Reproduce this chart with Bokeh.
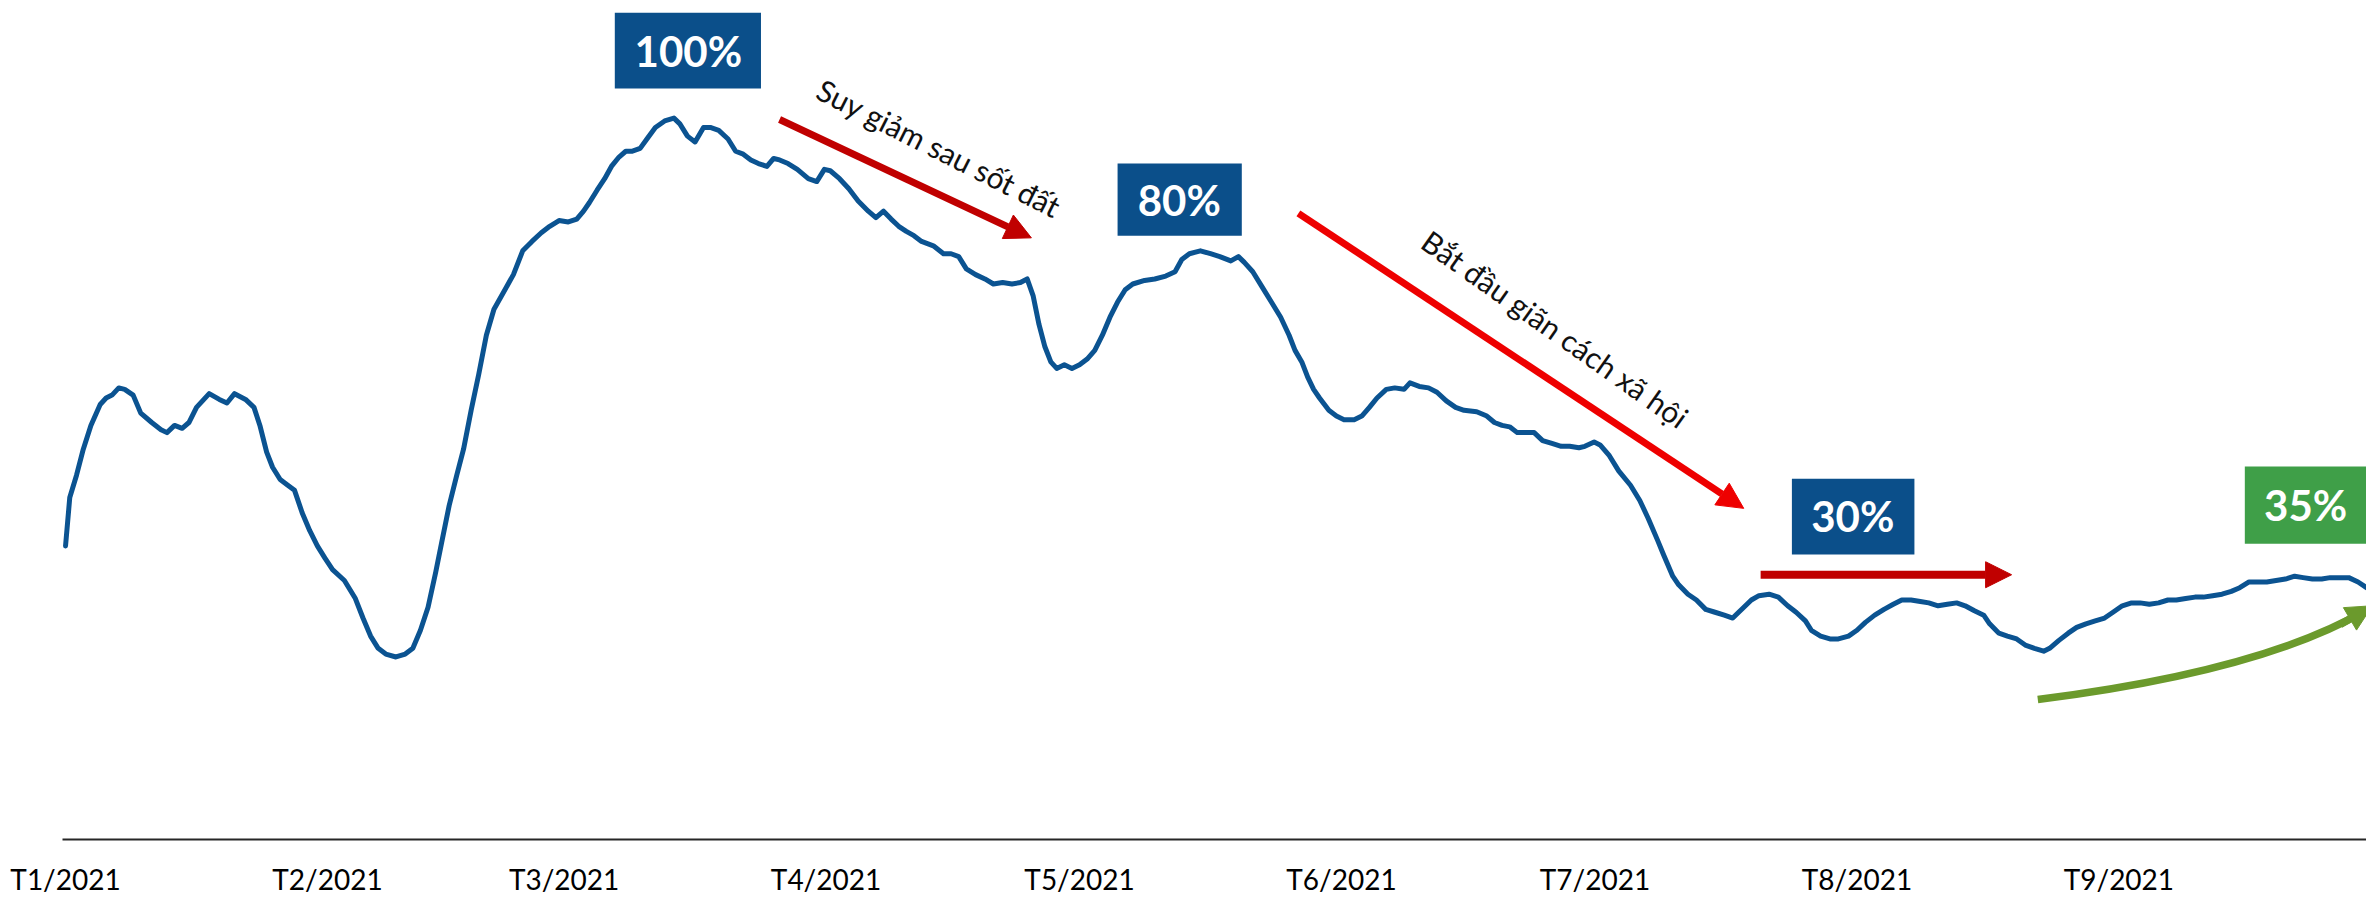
from bokeh.plotting import figure
from bokeh.models import Range1d, FixedTicker, BoxAnnotation, Label, Arrow, NormalHead
from bokeh.embed import file_html
from bokeh.resources import INLINE

# ---- data: day index since 01/01/2021 and index value (peak = 100) ----
days = [0.0, 0.5, 1.3, 2.1, 3.0, 4.1, 4.8, 5.5, 6.3, 7.0, 8.0, 8.9, 10.2, 11.3, 12.0, 12.9, 13.8, 14.6,
        15.5, 17.0, 18.2, 19.1, 20.0, 21.3, 22.3, 23.0, 23.8, 24.5, 25.4, 26.3, 27.1, 28.0, 28.9, 29.8,
        30.7, 31.6, 33.0, 34.3, 35.2, 36.1, 37.0, 37.9, 39.1, 40.2, 41.1, 42.0, 42.9, 43.8, 44.5, 45.4,
        46.3, 47.1, 48.0, 48.9, 49.8, 50.7, 52.0, 53.0, 54.1, 55.2, 56.3, 57.3, 58.4, 59.5, 60.5, 61.3,
        62.0, 62.9, 63.8, 64.6, 65.5, 66.3, 67.0, 68.0, 68.8, 69.8, 70.9, 72.0, 72.7, 73.6, 74.5, 75.5,
        76.3, 77.3, 78.4, 79.3, 80.2, 81.1, 82.0, 83.0, 83.8, 84.5, 85.5, 86.6, 87.9, 88.9, 89.8, 90.5,
        91.6, 92.7, 93.8, 95.0, 95.9, 96.8, 97.7, 98.6, 99.5, 100.4, 101.3, 102.7, 103.9, 104.8, 105.7,
        106.6, 107.7, 108.8, 109.8, 110.9, 112.0, 113.0, 113.8, 114.5, 115.2, 115.9, 116.6, 117.3, 118.2,
        119.1, 120.0, 120.9, 121.8, 122.7, 123.6, 124.5, 125.4, 126.3, 127.7, 128.9, 130.2, 131.3, 132.1,
        133.0, 134.3, 135.5, 136.6, 137.9, 138.8, 139.5, 140.5, 141.6, 142.7, 143.8, 144.8, 145.5, 146.3,
        147.0, 147.7, 148.4, 149.5, 150.4, 151.3, 152.5, 153.4, 154.3, 155.2, 156.3, 157.3, 158.4, 159.1,
        160.2, 161.3, 162.3, 163.4, 164.5, 165.5, 167.0, 168.2, 169.1, 170.0, 170.9, 171.8, 172.7, 173.8,
        174.8, 175.9, 177.0, 178.0, 179.1, 179.8, 180.9, 181.6, 182.7, 183.8, 185.2, 186.3, 187.3, 188.4,
        189.1, 190.2, 190.9, 192.0, 193.0, 194.1, 195.2, 196.3, 197.3, 198.0, 198.8, 199.5, 200.4, 201.6,
        202.7, 203.8, 204.8, 205.9, 206.6, 207.7, 208.8, 209.8, 211.0, 212.0, 213.0, 214.1, 215.2, 216.3,
        217.3, 218.4, 219.5, 220.5, 221.6, 222.7, 223.8, 224.8, 225.9, 227.0, 227.7, 228.8, 229.8, 230.9,
        232.0, 233.0, 234.1, 234.8, 235.9, 237.0, 238.0, 239.1, 240.2, 241.3, 242.3, 243.4, 244.5, 245.5,
        246.6, 247.7, 248.8, 249.8, 250.9, 252.0, 253.0, 254.1, 255.2, 256.3, 257.3, 258.4, 259.5, 260.5,
        261.6, 262.7, 263.8, 264.8, 265.9, 267.0, 268.0, 269.1, 270.2, 271.3, 272.3]
values = [40.7, 47.4, 50.5, 54.1, 57.4, 60.3, 61.2, 61.6, 62.6, 62.4, 61.6, 59.1, 57.8, 56.8, 56.4, 57.4,
          57.0, 57.8, 59.9, 61.8, 61.0, 60.5, 61.8, 61.0, 59.9, 57.4, 53.7, 51.6, 49.9, 49.1, 48.4, 45.3,
          42.8, 40.7, 39.0, 37.4, 35.9, 33.4, 30.7, 28.2, 26.5, 25.7, 25.3, 25.7, 26.5, 29.0, 32.2, 37.0,
          41.1, 46.3, 50.5, 54.1, 59.5, 64.5, 69.9, 73.5, 76.2, 78.3, 81.6, 82.9, 84.1, 85.0, 85.8, 85.6,
          86.0, 87.1, 88.3, 90.0, 91.6, 93.3, 94.6, 95.4, 95.4, 95.8, 97.1, 98.7, 99.6, 100.0, 99.2, 97.5,
          96.7, 98.7, 98.7, 98.3, 97.1, 95.4, 95.0, 94.2, 93.7, 93.3, 94.4, 94.2, 93.7, 92.9, 91.6, 91.2,
          92.9, 92.7, 91.6, 90.2, 88.5, 87.1, 86.2, 87.1, 86.0, 85.0, 84.3, 83.7, 82.9, 82.3, 81.2, 81.2,
          80.8, 79.1, 78.3, 77.7, 77.0, 77.2, 77.0, 77.2, 77.7, 75.4, 71.4, 68.3, 66.2, 65.3, 65.8, 65.3,
          65.8, 66.6, 67.8, 69.9, 72.4, 74.5, 76.2, 77.0, 77.5, 77.7, 78.1, 78.7, 80.4, 81.2, 81.6, 81.2,
          80.8, 80.2, 80.8, 80.0, 78.7, 76.6, 74.5, 72.4, 69.9, 67.8, 66.2, 64.1, 62.4, 61.2, 59.5, 58.7,
          58.2, 58.2, 58.7, 59.9, 61.2, 62.4, 62.6, 62.4, 63.3, 62.8, 62.6, 62.0, 60.8, 59.9, 59.5, 59.3,
          58.7, 57.8, 57.4, 57.2, 56.4, 56.4, 56.4, 55.3, 54.9, 54.5, 54.5, 54.3, 54.5, 55.1, 54.7, 53.2,
          51.1, 49.1, 47.0, 44.5, 41.5, 39.5, 36.5, 35.3, 34.0, 33.2, 31.9, 31.5, 31.1, 30.7, 31.5, 32.4,
          33.2, 33.8, 34.0, 33.6, 32.4, 31.5, 30.3, 29.0, 28.2, 27.8, 27.8, 28.2, 29.0, 30.1, 31.1, 31.9,
          32.6, 33.2, 33.2, 33.0, 32.8, 32.4, 32.6, 32.8, 32.4, 31.7, 31.1, 29.9, 28.6, 28.2, 27.8, 26.9,
          26.5, 26.1, 26.5, 27.6, 28.6, 29.4, 29.9, 30.3, 30.7, 31.5, 32.4, 32.8, 32.8, 32.6, 32.8, 33.2,
          33.2, 33.4, 33.6, 33.6, 33.8, 34.0, 34.4, 34.9, 35.7, 35.7, 35.7, 35.9, 36.1, 36.5, 36.3, 36.1,
          36.1, 36.3, 36.3, 36.3, 35.7, 34.9]
month_ticks = [0, 31, 59, 90, 120, 151, 181, 212, 243]
month_labels = ["T1/2021", "T2/2021", "T3/2021", "T4/2021", "T5/2021",
                "T6/2021", "T7/2021", "T8/2021", "T9/2021"]
box_texts = ["100%", "80%", "30%", "35%"]
note_texts = ["Suy giảm sau sốt đất", "Bắt đầu giãn cách xã hội"]

BLUE_LINE = "#0B5391"
BLUE_BOX = "#0B4F8A"
GREEN_BOX = "#3F9F48"
DARK_RED = "#C00000"
RED = "#EE0000"
OLIVE = "#6B9A2C"

p = figure(width=2366, height=898, output_backend="svg", toolbar_location=None,
           x_range=Range1d(-0.36, 272.3), y_range=Range1d(0, 116.3),
           y_axis_location=None,
           min_border_left=62, min_border_right=0, min_border_top=0, min_border_bottom=58)
p.background_fill_color = "white"
p.border_fill_color = "white"
p.outline_line_color = None
p.grid.visible = False

p.line(days, values, line_color=BLUE_LINE, line_width=5, line_join="round", line_cap="round")

ax = p.xaxis[0]
ax.ticker = FixedTicker(ticks=month_ticks)
ax.major_label_overrides = {t: l for t, l in zip(month_ticks, month_labels)}
ax.major_tick_line_color = None
ax.minor_tick_line_color = None
ax.major_tick_out = 0
ax.axis_line_color = "#262626"
ax.axis_line_width = 2
ax.major_label_text_font = "Lato"
ax.major_label_text_font_size = "28px"
ax.major_label_text_color = "#000000"
ax.major_label_standoff = 22

# value boxes
boxes = [
    (box_texts[0], 65.0, 82.3, 114.6, 104.1, 73.7, 109.3, BLUE_BOX),
    (box_texts[1], 124.5, 139.2, 93.7, 83.7, 131.8, 88.7, BLUE_BOX),
    (box_texts[2], 204.3, 218.8, 50.0, 39.5, 211.5, 44.8, BLUE_BOX),
    (box_texts[3], 257.9, 274.0, 51.7, 41.0, 265.1, 46.3, GREEN_BOX),
]
for txt, l, r, t, b, cx, cy, col in boxes:
    p.add_layout(BoxAnnotation(left=l, right=r, top=t, bottom=b, fill_color=col,
                               fill_alpha=1.0, line_color=None, level="overlay"))
    p.add_layout(Label(x=cx, y=cy, text=txt, text_align="center", text_baseline="middle",
                       text_font="Lato", text_font_style="bold", text_font_size="42px",
                       text_color="white", level="overlay"))

# arrows
def add_arrow(x0, y0, x1, y1, col, size=26, width=7):
    p.add_layout(Arrow(end=NormalHead(size=size, fill_color=col, line_color=col),
                       x_start=x0, y_start=y0, x_end=x1, y_end=y1,
                       line_color=col, line_width=width))

add_arrow(84.5, 99.8, 114.3, 83.4, DARK_RED)
add_arrow(145.9, 86.8, 198.6, 45.9, RED)
add_arrow(200.6, 36.7, 230.3, 36.7, DARK_RED, width=8)

# green curved arrow
p.quadratic(x0=[233.4], y0=[19.4], cx=[259.8], cy=[23.3], x1=[272.3], y1=[31.8],
            line_color=OLIVE, line_width=7.5)
add_arrow(269.2, 29.8, 273.0, 32.4, OLIVE, size=26, width=7.5)

# rotated notes
p.add_layout(Label(x=103.4, y=95.9, text=note_texts[0], angle=-26.8, angle_units="deg",
                   text_align="center", text_baseline="middle", text_font="Lato",
                   text_font_size="30px", text_color="#111111"))
p.add_layout(Label(x=176.3, y=70.8, text=note_texts[1], angle=-35.2, angle_units="deg",
                   text_align="center", text_baseline="middle", text_font="Lato",
                   text_font_size="30px", text_color="#111111"))

open("out.html", "w").write(file_html(p, INLINE))
